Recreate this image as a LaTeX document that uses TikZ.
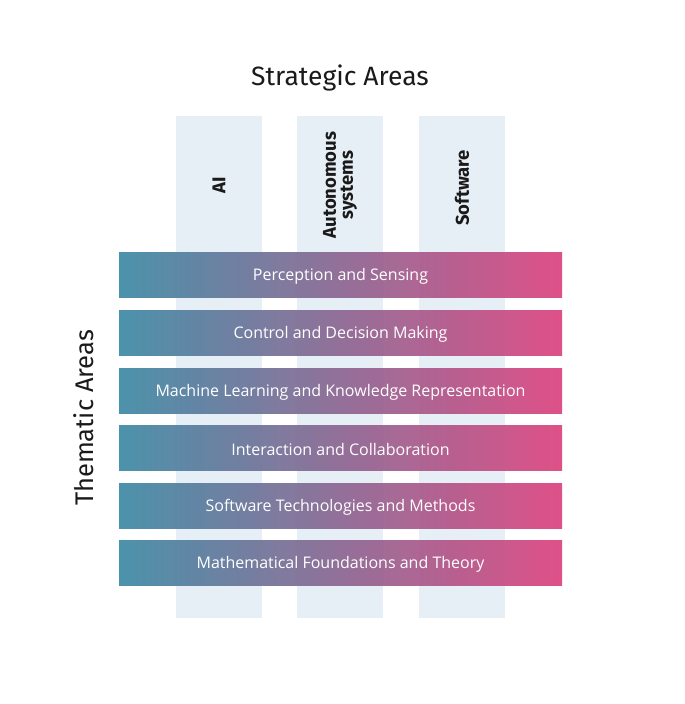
\documentclass[tikz,border=0pt]{standalone}
\usepackage{fontspec}
\setmainfont{Open Sans}
\newfontfamily\titlefont{Fira Sans}
\definecolor{colfill}{HTML}{E6EEF6}
\definecolor{barleft}{HTML}{3E8AA5}
\definecolor{barright}{HTML}{DC4480}
\definecolor{titlecol}{HTML}{1A1A1A}
\begin{document}
\begin{tikzpicture}[x=1pt,y=-1pt,
  colbox/.style={fill=colfill},
  barbox/.style={left color=barleft,right color=barright,fill opacity=0.93},
  bartext/.style={text=white,font=\fontsize{16}{18}\selectfont,anchor=center},
  coltext/.style={text=titlecol,font=\titlefont\fontsize{18.5}{20}\selectfont\bfseries,rotate=90,align=center,anchor=center},
  headtext/.style={text=titlecol,font=\titlefont\fontsize{26.5}{30}\selectfont,anchor=center}]
\useasboundingbox (0,0) rectangle (685,704);
\fill[white] (0,0) rectangle (685,704);
% columns
\fill[colbox] (176,116) rectangle (262,618);
\fill[colbox] (297,116) rectangle (383,618);
\fill[colbox] (419,116) rectangle (505,618);
\node[coltext] (cAI) at (219,185) {AI};
\node[coltext] (cAS) at (340,185) {Autonomous\\[-3pt]systems};
\node[coltext] (cSW) at (462,188) {Software};
% titles
\node[headtext] (strat) at (340,78) {Strategic Areas};
\node[headtext,font=\titlefont\fontsize{25.5}{30}\selectfont,rotate=90] (them) at (84,418) {Thematic Areas};
% bars
\foreach \y/\t/\n in {252/Perception and Sensing/b1,
                      310/Control and Decision Making/b2,
                      368/Machine Learning and Knowledge Representation/b3,
                      425/Interaction and Collaboration/b4,
                      483/Software Technologies and Methods/b5,
                      540/Mathematical Foundations and Theory/b6}{
  \shade[barbox] (119,\y) rectangle (562,\y+45);
  \node[bartext] (\n) at (340.5,\y+24.5) {\t};
}
\end{tikzpicture}
\end{document}
